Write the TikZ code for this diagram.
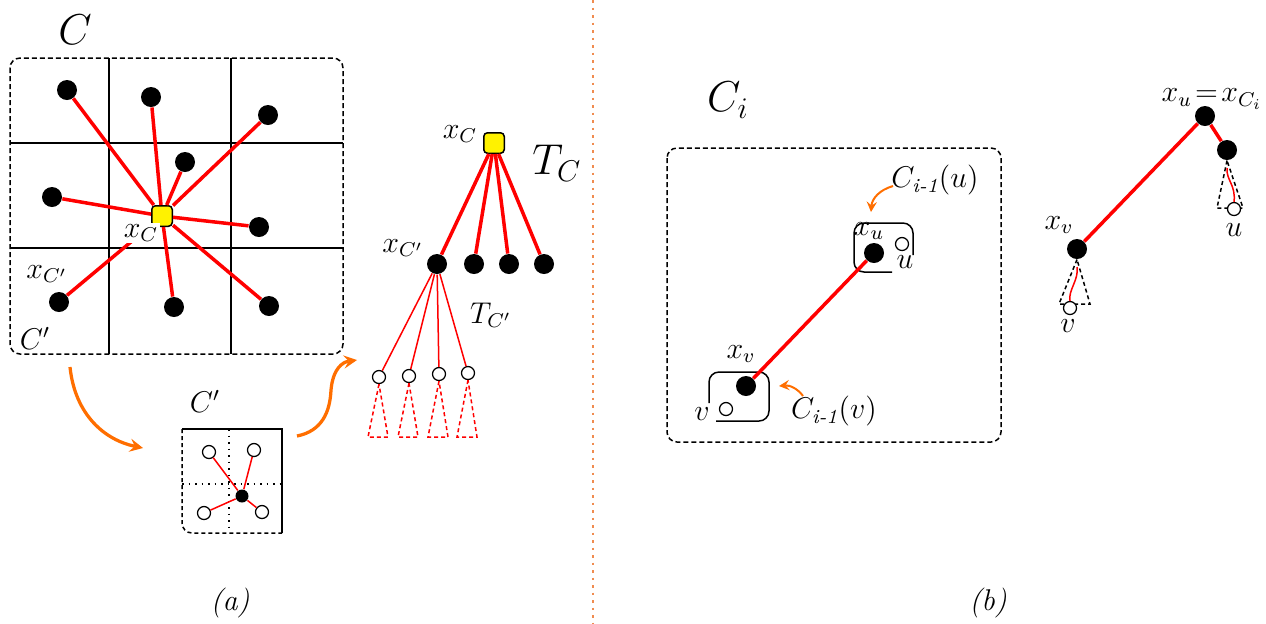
\documentclass[tikz,border=0pt]{standalone}
\usepackage{amsmath}
\usetikzlibrary{arrows}

\definecolor{myorange}{RGB}{255,110,0}
\definecolor{divorange}{RGB}{240,140,80}

\tikzset{
  bdot/.style={circle,fill=black,inner sep=0pt,minimum size=8pt},
  wdot/.style={circle,draw=black,fill=white,inner sep=0pt,minimum size=5.2pt,line width=0.5pt},
  ysq/.style={rectangle,rounded corners=1.5pt,draw=black,fill=yellow,inner sep=0pt,minimum size=8.2pt,line width=0.6pt},
  tedge/.style={red,line width=1.4pt},
  sedge/.style={red,line width=0.6pt},
  cell/.style={dash pattern=on 2pt off 1.2pt,line width=0.6pt,rounded corners=4pt},
  tri/.style={dash pattern=on 1.6pt off 1.2pt,line width=0.6pt},
  oarrow/.style={myorange,line width=1.3pt,-stealth},
}

\begin{document}
\begin{tikzpicture}[x=0.4pt,y=-0.4pt]
\useasboundingbox (0,0) rectangle (1266,623);

% (a) the cell C and its grid
\draw[cell] (10,58) rectangle (343,354);
\draw[line width=0.6pt] (109,58) -- (109,354) (231,58) -- (231,354)
  (10,143) -- (343,143) (10,248) -- (343,248);
\node[font=\LARGE] (lc) at (75,30) {$C$};
\node[font=\large] (lcp) at (35,338) {$C'$};

\node[ysq] (xc) at (162,216) {};
\foreach \x/\y/\n in {67/90/c1,151/97/c2,268/115/c3,185/162/c4,52/197/c5,
  259/227/c6,174/307/c7,269/306/c8,59/302/c9}
  \node[bdot] (\n) at (\x,\y) {};
\foreach \n in {c1,c2,c3,c4,c5,c6,c7,c8,c9}
  \draw[tedge] (xc) -- (\n);
\node[fill=white,inner sep=0.5pt,font=\large] (lxc) at (141,233) {$x_C$};
\node[font=\large] (lxcp) at (47,274) {$x_{C'}$};

% the tree T_C
\node[ysq] (r) at (494,143) {};
\node[font=\large] (lr) at (460,134) {$x_C$};
\node[font=\LARGE] (ltc) at (557,163) {$T_C$};
\foreach \x/\n in {437/t1,474/t2,509/t3,544/t4}
  \node[bdot] (\n) at (\x,264) {};
\foreach \n in {t1,t2,t3,t4}
  \draw[tedge] (r) -- (\n);
\node[font=\large] (lt1) at (403,248) {$x_{C'}$};
\node[font=\large] (ltcp) at (491,315) {$T_{C'}$};

\foreach \x/\y/\n in {379/377/w1,409/376/w2,439/374/w3,468/373/w4}{
  \node[wdot] (\n) at (\x,\y) {};
  \draw[sedge] (t1) -- (\n);
  \draw[tri,red] (\n.south) -- (\x-11,437) -- (\x+9,437) -- cycle;
}

% the small cell C'
\draw[line width=0.6pt] (182,429) -- (282,429) -- (282,533);
\draw[tri,rounded corners=4pt] (182,429) -- (182,533) -- (282,533);
\draw[dotted,line width=0.6pt] (229,429) -- (229,533) (182,484) -- (282,484);
\node[font=\large] (lcp2) at (205,401) {$C'$};
\node[bdot,minimum size=5.2pt] (s0) at (242,496) {};
\foreach \x/\y/\n in {209/452/s1,254/450/s2,204/513/s3,262/512/s4}{
  \node[wdot] (\n) at (\x,\y) {};
  \draw[sedge] (s0) -- (\n);
}

% orange arrows
\draw[oarrow] (70,367) .. controls (75,415) and (105,440) .. (143,448);
\draw[oarrow] (297,436) .. controls (322,431) and (330,412) .. (331,390)
  .. controls (333,368) and (343,362) .. (357,360);

\node (la) at (230,603) {\large\textit{(a)}};

% divider
\draw[divorange,dotted,line width=1pt] (593,0) -- (593,623);

% (b) the cell C_i
\node[font=\LARGE] (lci) at (728,100) {$C_i$};
\draw[cell] (667,148) rectangle (1001,442);
\draw[line width=0.6pt,rounded corners=4pt] (892,272) -- (854,272) -- (854,223) -- (913,223) -- (913,255);
\draw[line width=0.6pt,rounded corners=4pt] (709,403) -- (709,372) -- (769,372) -- (769,421) -- (716,421);

\node[bdot] (xu) at (874,253) {};
\node[bdot] (xv) at (746,386) {};
\node[wdot] (u) at (902,244) {};
\node[wdot] (v) at (726,409) {};
\draw[tedge] (xv) -- (xu);
\node[font=\large] (lxu) at (869,231) {$x_u$};
\node[font=\large] (lu) at (905,262) {$u$};
\node[font=\large] (lxv) at (741,354) {$x_v$};
\node[font=\large] (lv) at (702,414) {$v$};

\node[font=\large] (lcu) at (935,180) {$C_{\textit{i-1}}(u)$};
\node[font=\large] (lcv) at (834,411) {$C_{\textit{i-1}}(v)$};
\draw[myorange,line width=0.8pt,-stealth] (893,186) .. controls (879,190) and (872,199) .. (871,212);
\draw[myorange,line width=0.8pt,-stealth] (803,396) .. controls (798,389) and (790,385) .. (779,386);

% the tree on the right
\node[bdot] (rt) at (1205,116) {};
\node[bdot] (rc) at (1227,150) {};
\node[bdot] (rv) at (1077,249) {};
\draw[tedge] (rt) -- (rc);
\draw[tedge] (rt) -- (rv);
\node[font=\large] (lrt) at (1212,99) {$x_u\!=\!x_{C_i}$};
\node[font=\large] (lrv) at (1059,225) {$x_v$};

\draw[tri] (rc.south) -- (1217,208) -- (1243,208) -- cycle;
\draw[tri] (rv.south) -- (1059,304) -- (1090,304) -- cycle;
\node[wdot] (ru) at (1234,209) {};
\node[wdot] (rvv) at (1070,308) {};
\draw[sedge] ([yshift=-3pt]rc.south) .. controls (1226,180) and (1236,185) .. (ru.north);
\draw[sedge] ([yshift=-3pt]rv.south) .. controls (1079,280) and (1068,290) .. (rvv.north);
\node[font=\large] (lu2) at (1234,230) {$u$};
\node[font=\large] (lv2) at (1068,326) {$v$};

\node (lb) at (988,603) {\large\textit{(b)}};
\end{tikzpicture}
\end{document}
